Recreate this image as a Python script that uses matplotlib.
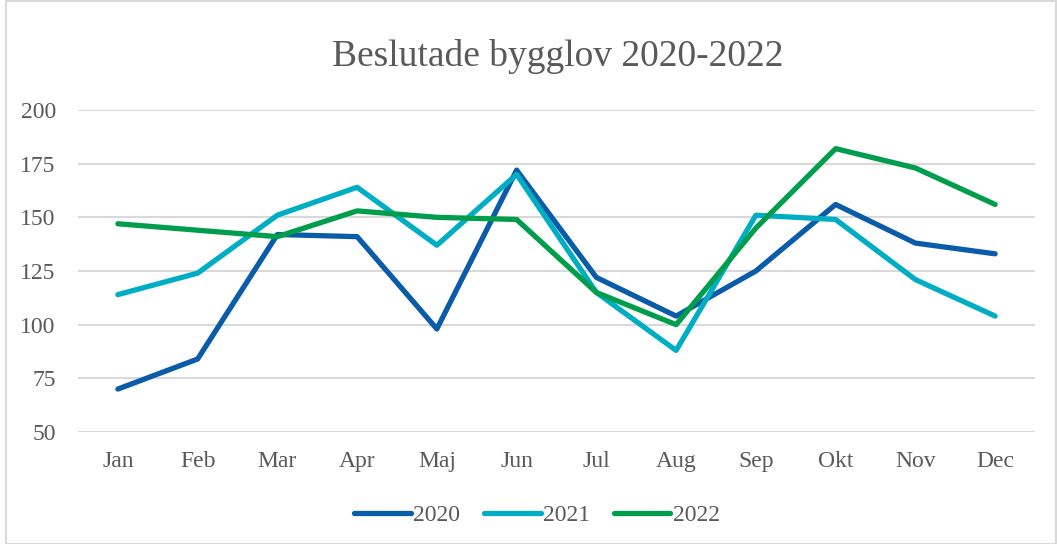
import matplotlib.pyplot as plt
from matplotlib.patches import Rectangle

months = ['Jan', 'Feb', 'Mar', 'Apr', 'Maj', 'Jun', 'Jul', 'Aug', 'Sep', 'Okt', 'Nov', 'Dec']
y2020 = [70, 84, 142, 141, 98, 172, 122, 104, 125, 156, 138, 133]
y2021 = [114, 124, 151, 164, 137, 170, 115, 88, 151, 149, 121, 104]
y2022 = [147, 144, 141, 153, 150, 149, 115, 100, 145, 182, 173, 156]
yticks = [50, 75, 100, 125, 150, 175, 200]

plt.rcParams['font.family'] = ['Liberation Serif', 'DejaVu Serif']
txt = '#595959'

fig = plt.figure(figsize=(10.57, 5.44), dpi=100)
ax = fig.add_axes([78 / 1057, 1 - 432 / 544, (1035 - 78) / 1057, (432 - 110) / 544])

x = range(len(months))
ax.plot(x, y2020, color='#0B5CA8', lw=3.8, solid_capstyle='round', label='2020', zorder=3)
ax.plot(x, y2021, color='#00AEC4', lw=3.8, solid_capstyle='round', label='2021', zorder=3)
ax.plot(x, y2022, color='#009E4C', lw=3.8, solid_capstyle='round', label='2022', zorder=3)

ax.set_xlim(-0.5, len(months) - 0.5)
ax.set_ylim(50, 200)
ax.set_yticks(yticks)
ax.set_xticks(list(x))
ax.set_xticklabels(months)
ax.yaxis.grid(True, color='#D9D9D9', lw=1.5)
ax.set_axisbelow(True)
for s in ax.spines.values():
    s.set_visible(False)
ax.tick_params(axis='both', length=0, labelsize=17, colors=txt)
ax.tick_params(axis='x', pad=14)
ax.tick_params(axis='y', pad=16)

fig.text(558 / 1057, 1 - 56 / 544, 'Beslutade bygglov 2020-2022', ha='center', va='center',
         fontsize=27, color=txt)

leg = fig.legend(loc='center', bbox_to_anchor=(537 / 1057, 1 - 515 / 544), ncol=3, frameon=False,
                 fontsize=17, handlelength=2.4, handletextpad=0.1, columnspacing=1.0)
for t in leg.get_texts():
    t.set_color(txt)

fig.patches.append(Rectangle((6 / 1057, 0), 1 - 7 / 1057, 1 - 1 / 544, transform=fig.transFigure,
                             fill=False, edgecolor='#D9D9D9', lw=1.5))

fig.savefig('out.png', dpi=100)
